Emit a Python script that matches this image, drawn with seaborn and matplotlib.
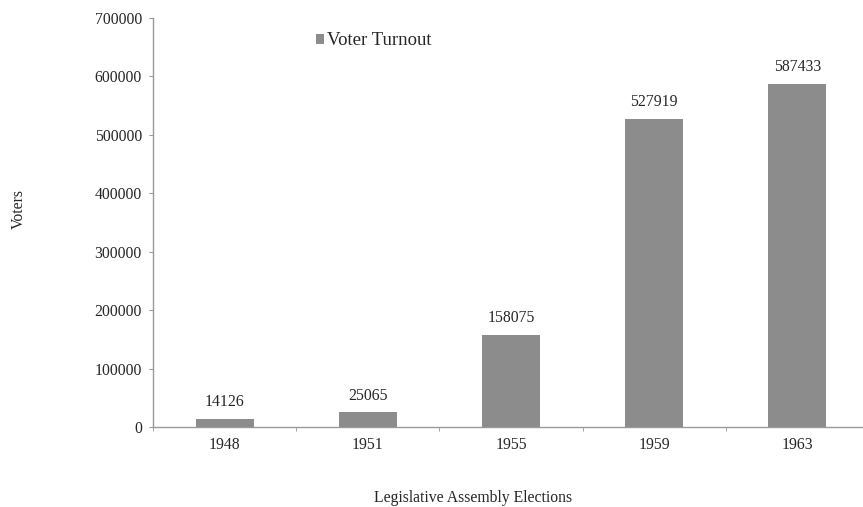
import matplotlib
matplotlib.use("Agg")
import matplotlib.pyplot as plt
import seaborn as sns
import pandas as pd

years = ["1948", "1951", "1955", "1959", "1963"]
voters = [14126, 25065, 158075, 527919, 587433]
series_name = "Voter Turnout"
yticks = [0, 100000, 200000, 300000, 400000, 500000, 600000, 700000]

df = pd.DataFrame({"Year": years, "Voters": voters, "Series": [series_name] * len(years)})

sns.set_style("white")
plt.rcParams["font.family"] = ["Liberation Serif", "DejaVu Serif"]

fig = plt.figure(figsize=(8.63, 5.07), dpi=100)
ax = fig.add_axes([0.17729, 0.1578, 0.8297, 0.8067])

bar_color = "#8c8c8c"
sns.barplot(data=df, x="Year", y="Voters", hue="Series", palette=[bar_color],
            width=0.405, ax=ax, saturation=1, edgecolor="none")

fs = 11.3
for c in ax.containers:
    ax.bar_label(c, labels=[str(v) for v in voters], padding=6, fontsize=fs)

ax.set_ylim(0, 700000)
ax.set_yticks(yticks)
ax.set_yticklabels([str(t) for t in yticks], fontsize=fs)
ax.set_xlim(-0.5, len(years) - 0.5)
ax.tick_params(axis="x", labelsize=fs, length=0, pad=7)
ax.tick_params(axis="y", length=3, color="#999999", left=True, pad=5)

# category boundary ticks
ax.set_xticks([i - 0.5 for i in range(len(years) + 1)], minor=True)
ax.tick_params(axis="x", which="minor", bottom=True, length=2.8, color="#999999")

for s in ["top", "right"]:
    ax.spines[s].set_visible(False)
for s in ["left", "bottom"]:
    ax.spines[s].set_color("#999999")
    ax.spines[s].set_linewidth(1)

ax.set_xlabel("")
ax.set_ylabel("")
fig.text(473 / 863, 1 - 498 / 507, "Legislative Assembly Elections", ha="center", va="center", fontsize=fs)
fig.text(19 / 863, 1 - 209 / 507, "Voters", rotation=90, ha="center", va="center", fontsize=fs)

leg = ax.legend(loc="upper left", bbox_to_anchor=(0.2165, 0.983), frameon=False,
                fontsize=13.5, handlelength=0.45, handleheight=0.45, handletextpad=0.15,
                borderaxespad=0)

fig.savefig("out.png", dpi=100)
